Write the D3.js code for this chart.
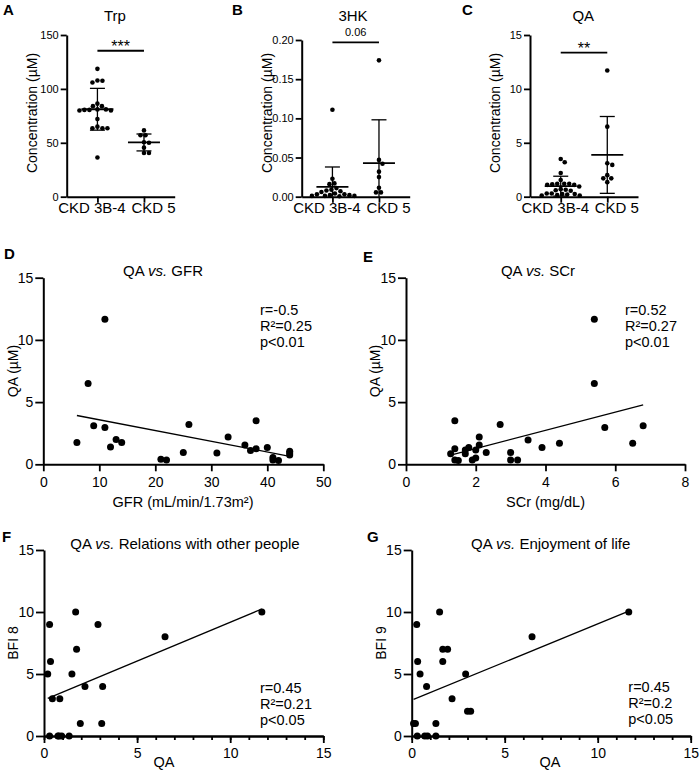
<!DOCTYPE html>
<html>
<head>
<meta charset="utf-8">
<script src="https://cdn.jsdelivr.net/npm/d3@7"></script>
<style>
  body { margin: 0; background: #fff; }
  svg { font-family: "Liberation Sans", Arial, sans-serif; }
</style>
</head>
<body>
<script>
let w = 700;
let h = 774;

// categories for the column plots
let groups = ["CKD 3B-4", "CKD 5"];

// A - Trp (µM)
let trpCkd34 = [118.6, 107.8, 107.5, 106, 86.3, 84, 84, 81, 81, 80.5, 80.5, 80, 80, 72, 65, 63.5, 63.5, 63.5, 36.3];
let trpCkd5 = [61.5, 57, 57, 50.5, 50, 45.5, 40.5, 40.5];

// B - 3HK (µM)
let hkCkd34 = [0.111, 0.023, 0.017, 0.016, 0.011, 0.009, 0.008, 0.007, 0.006, 0.004, 0.003, 0.003, 0.002, 0.002, 0.001, 0.001, 0.001, 0.0005];
let hkCkd5 = [0.174, 0.047, 0.042, 0.032, 0.025, 0.0115, 0.0055, 0.0055];

// C - QA (µM)
let qaCkd34 = [3.5, 3.2, 2.2, 1.55, 1.2, 1.2, 1.2, 1.15, 1.1, 1.1, 0.95, 0.7, 0.65, 0.6, 0.55, 0.3, 0.3, 0.25, 0.25, 0.2, 0.15, 0.1, 0.1];
let qaCkd5 = [11.7, 6.5, 3.1, 2.95, 2.0, 1.7, 1.7, 1.35];

// D - QA vs GFR
let gfr = [6, 8, 9, 11, 11, 12, 13, 14, 21, 22, 25, 26, 31, 33, 36, 37, 38, 38, 40, 41, 41, 42, 44, 44, 44];
let qaGfr = [1.75, 6.5, 3.1, 11.65, 2.95, 1.4, 2.0, 1.75, 0.4, 0.35, 0.95, 3.2, 0.9, 2.2, 1.55, 1.1, 3.5, 1.25, 1.35, 0.55, 0.35, 0.3, 1.05, 0.9, 0.75];

// E - QA vs SCr
let scr = [1.28, 1.4, 1.4, 1.4, 1.5, 1.7, 1.7, 1.8, 1.9, 2.0, 2.0, 2.1, 2.1, 2.3, 2.7, 3.0, 3.0, 3.2, 3.5, 3.9, 4.4, 5.4, 5.4, 5.7, 6.5, 6.8];
let qaScr = [0.85, 3.5, 1.25, 0.35, 0.3, 0.85, 1.15, 1.35, 0.35, 0.5, 1.15, 1.55, 2.2, 0.95, 3.2, 0.95, 0.35, 0.35, 1.95, 1.35, 1.7, 11.65, 6.5, 2.95, 1.7, 3.1];

// F - BFI 8 vs QA
let qaF = [0.2, 0.3, 0.3, 0.35, 0.45, 0.75, 0.8, 0.85, 0.95, 1.35, 1.5, 1.7, 1.75, 1.95, 2.2, 2.9, 3.1, 3.15, 6.5, 11.7];
let bfi8 = [5, 9, 0, 6, 3, 0, 0, 3, 0, 0, 5, 10, 7, 1, 4, 9, 1, 4, 8, 10];

// G - BFI 9 vs QA
let qaG = [0.1, 0.2, 0.27, 0.3, 0.32, 0.45, 0.7, 0.85, 0.8, 1.3, 1.3, 1.5, 1.67, 1.67, 1.93, 2.17, 2.9, 3.0, 3.17, 6.47, 11.67];
let bfi9 = [1, 1, 9, 0, 6, 5, 0, 0, 4, 1, 0, 10, 7, 6, 7, 3, 5, 2, 2, 8, 10];

let statsD = ["r=-0.5", "R²=0.25", "p<0.01"];
let statsE = ["r=0.52", "R²=0.27", "p<0.01"];
let statsF = ["r=0.45", "R²=0.21", "p<0.05"];
let statsG = ["r=0.45", "R²=0.2", "p<0.05"];

let svg = d3.select("body")
  .append("svg")
  .attr("width", w)
  .attr("height", h);

function styleAxis(g, fontSize) {
  g.select(".domain").attr("stroke", "#000").attr("stroke-width", 2);
  g.selectAll(".tick line").attr("stroke", "#000").attr("stroke-width", 1.8);
  g.selectAll(".tick text").attr("fill", "#000").attr("font-size", fontSize);
  g.attr("font-family", null);
}

function letter(txt, x, y) {
  svg.append("text")
    .attr("x", x).attr("y", y)
    .attr("font-size", 15).attr("font-weight", "bold")
    .text(txt);
}

function yTitle(txt, x, y) {
  svg.append("text")
    .attr("transform", "translate(" + x + "," + y + ") rotate(-90)")
    .attr("text-anchor", "middle")
    .attr("dy", "0.35em")
    .attr("font-size", 14)
    .text(txt);
}

// simple beeswarm: put each dot at the nearest free spot on its row
function swarm(values, cx, y, r) {
  let placed = [];
  values.slice().sort((a, b) => b - a).forEach((v) => {
    let py = y(v);
    let k = 0, px;
    while (true) {
      px = cx + (k % 2 ? 1 : -1) * Math.ceil(k / 2) * 0.5;
      if (placed.every((q) => Math.hypot(q.x - px, q.y - py) >= 2 * r + 0.4)) break;
      k++;
    }
    placed.push({ x: px, y: py });
  });
  return placed;
}

function columnPanel(p) {
  let x = d3.scalePoint().domain(groups).range([p.left, p.left + 108]).padding(0.66);
  let y = d3.scaleLinear().domain([0, p.max]).range([p.bottom, p.top]);
  let r = 2.3;

  [p.a, p.b].forEach((vals, i) => {
    let cx = x(groups[i]);
    svg.append("g").selectAll("circle")
      .data(swarm(vals, cx, y, r))
      .enter()
      .append("circle")
      .attr("cx", (d) => d.x)
      .attr("cy", (d) => d.y)
      .attr("r", r)
      .attr("fill", "#000");

    let m = d3.mean(vals);
    let sd = d3.deviation(vals);
    let lo = Math.max(m - sd, 0);
    let eb = svg.append("g").attr("stroke", "#000");
    eb.append("line")
      .attr("x1", cx).attr("x2", cx)
      .attr("y1", y(lo)).attr("y2", y(m + sd))
      .attr("stroke-width", 1.3);
    eb.append("line")
      .attr("x1", cx - 16).attr("x2", cx + 16)
      .attr("y1", y(m)).attr("y2", y(m))
      .attr("stroke-width", 1.8);
    eb.append("line")
      .attr("x1", cx - 7.5).attr("x2", cx + 7.5)
      .attr("y1", y(m + sd)).attr("y2", y(m + sd))
      .attr("stroke-width", 1.3);
    if (m - sd > 0) {
      eb.append("line")
        .attr("x1", cx - 7.5).attr("x2", cx + 7.5)
        .attr("y1", y(m - sd)).attr("y2", y(m - sd))
        .attr("stroke-width", 1.3);
    }
  });

  // axes
  svg.append("g")
    .attr("transform", "translate(" + p.left + ",0)")
    .call(d3.axisLeft(y).tickValues(p.ticks).tickFormat(p.fmt).tickSize(6).tickPadding(2).tickSizeOuter(0))
    .call(styleAxis, 11);

  let xa = svg.append("g")
    .attr("transform", "translate(0," + p.bottom + ")")
    .call(d3.axisBottom(x).tickSize(6).tickPadding(0).tickSizeOuter(0))
    .call(styleAxis, 15);
  // labels are wider than the step, so they are pushed apart a little
  xa.selectAll(".tick text").attr("dx", (d, i) => i === 0 ? -6 : 9);

  // significance bar
  let sy = y(p.sigAt);
  svg.append("line")
    .attr("x1", x(groups[0])).attr("x2", x(groups[1]))
    .attr("y1", sy).attr("y2", sy)
    .attr("stroke", "#000").attr("stroke-width", 1.8);
  svg.append("text")
    .attr("x", (x(groups[0]) + x(groups[1])) / 2)
    .attr("y", p.sigSmall ? sy - 6 : sy + 1)
    .attr("text-anchor", "middle")
    .attr("font-size", p.sigSmall ? 11 : 16)
    .text(p.sig);

  svg.append("text")
    .attr("x", p.titleX).attr("y", 20.7)
    .attr("text-anchor", "middle")
    .attr("font-size", 15)
    .text(p.title);

  letter(p.letter, p.letterX, 15);
  yTitle("Concentration (µM)", p.left - 35, 113);
}

function fitLine(xs, ys) {
  let mx = d3.mean(xs), my = d3.mean(ys);
  let sxy = d3.sum(xs, (v, i) => (v - mx) * (ys[i] - my));
  let sxx = d3.sum(xs, (v) => (v - mx) * (v - mx));
  let slope = sxy / sxx;
  return { slope: slope, intercept: my - slope * mx };
}

function scatterPanel(p) {
  let x = d3.scaleLinear().domain(p.xDomain).range([p.left, p.right]);
  let y = d3.scaleLinear().domain([0, 15]).range([p.bottom, p.top]);

  let fit = fitLine(p.xs, p.ys);
  let ext = d3.extent(p.xs);
  svg.append("line")
    .attr("x1", x(ext[0])).attr("x2", x(ext[1]))
    .attr("y1", y(fit.intercept + fit.slope * ext[0]))
    .attr("y2", y(fit.intercept + fit.slope * ext[1]))
    .attr("stroke", "#000").attr("stroke-width", 1.3);

  svg.append("g").selectAll("circle")
    .data(p.xs)
    .enter()
    .append("circle")
    .attr("cx", (d) => x(d))
    .attr("cy", (d, i) => y(p.ys[i]))
    .attr("r", 3.5)
    .attr("fill", "#000");

  if (p.minor) {
    svg.append("g")
      .attr("transform", "translate(0," + p.bottom + ")")
      .call(d3.axisBottom(x).tickValues(d3.range(p.xDomain[0], p.xDomain[1] + 1)).tickFormat("").tickSize(4).tickSizeOuter(0))
      .call(styleAxis, 14);
  }
  svg.append("g")
    .attr("transform", "translate(0," + p.bottom + ")")
    .call(d3.axisBottom(x).tickValues(p.xTicks).tickSize(7).tickPadding(5.5).tickSizeOuter(0))
    .call(styleAxis, 14);
  svg.append("g")
    .attr("transform", "translate(" + p.left + ",0)")
    .call(d3.axisLeft(y).tickValues([0, 5, 10, 15]).tickSize(8).tickPadding(2).tickSizeOuter(0))
    .call(styleAxis, 14);

  let t = svg.append("text")
    .attr("x", p.titleX).attr("y", p.top - 1.5)
    .attr("text-anchor", "middle")
    .attr("font-size", 15);
  t.append("tspan").text("QA ");
  t.append("tspan").attr("font-style", "italic").text("vs.");
  t.append("tspan").text(" " + p.title);

  svg.append("g").selectAll("text")
    .data(p.stats)
    .enter()
    .append("text")
    .attr("x", p.statX)
    .attr("y", (d, i) => p.statY + i * 16)
    .attr("font-size", 14.5)
    .text((d) => d);

  svg.append("text")
    .attr("x", p.xTitleX).attr("y", p.bottom + p.xTitleDy)
    .attr("text-anchor", "middle")
    .attr("font-size", 14.5)
    .text(p.xTitle);

  yTitle(p.yTitle, p.left - 30.5, (p.top + p.bottom) / 2);
  letter(p.letter, p.letterX, p.letterY);
}

columnPanel({
  a: trpCkd34, b: trpCkd5, left: 66.7, top: 35, bottom: 196.7, max: 150,
  ticks: [0, 50, 100, 150], fmt: d3.format("d"), title: "Trp", titleX: 115,
  sig: "***", sigAt: 135.4, letter: "A", letterX: 3
});
columnPanel({
  a: hkCkd34, b: hkCkd5, left: 301.7, top: 40, bottom: 196.7, max: 0.2,
  ticks: [0, 0.05, 0.1, 0.15, 0.2], fmt: d3.format(".2f"), title: "3HK", titleX: 353,
  sig: "0.06", sigSmall: true, sigAt: 0.197, letter: "B", letterX: 232
});
columnPanel({
  a: qaCkd34, b: qaCkd5, left: 530, top: 35, bottom: 196.7, max: 15,
  ticks: [0, 5, 10, 15], fmt: d3.format("d"), title: "QA", titleX: 583.3,
  sig: "**", sigAt: 13.36, letter: "C", letterX: 462
});

scatterPanel({
  xs: gfr, ys: qaGfr, left: 43.3, right: 323.3, top: 277.7, bottom: 464.3,
  xDomain: [0, 50], xTicks: [0, 10, 20, 30, 40, 50], title: "GFR", titleX: 163,
  stats: statsD, statX: 260, statY: 315, xTitle: "GFR (mL/min/1.73m²)", xTitleX: 183, xTitleDy: 43,
  yTitle: "QA (µM)", letter: "D", letterX: 4, letterY: 259
});
scatterPanel({
  xs: scr, ys: qaScr, left: 406, right: 685, top: 277.7, bottom: 464.3,
  xDomain: [0, 8], xTicks: [0, 2, 4, 6, 8], title: "SCr", titleX: 538,
  stats: statsE, statX: 625, statY: 315, xTitle: "SCr (mg/dL)", xTitleX: 545.5, xTitleDy: 43,
  yTitle: "QA (µM)", letter: "E", letterX: 363, letterY: 262
});
scatterPanel({
  xs: qaF, ys: bfi8, left: 44, right: 323.3, top: 550, bottom: 736,
  xDomain: [0, 15], xTicks: [0, 5, 10, 15], minor: true, title: "Relations with other people", titleX: 185,
  stats: statsF, statX: 260, statY: 692.7, xTitle: "QA", xTitleX: 164, xTitleDy: 31,
  yTitle: "BFI 8", letter: "F", letterX: 2, letterY: 542
});
scatterPanel({
  xs: qaG, ys: bfi9, left: 411.7, right: 690.7, top: 550, bottom: 736,
  xDomain: [0, 15], xTicks: [0, 5, 10, 15], minor: true, title: "Enjoyment of life", titleX: 550.7,
  stats: statsG, statX: 628.3, statY: 691.7, xTitle: "QA", xTitleX: 550, xTitleDy: 31,
  yTitle: "BFI 9", letter: "G", letterX: 367, letterY: 542
});
</script>
</body>
</html>
